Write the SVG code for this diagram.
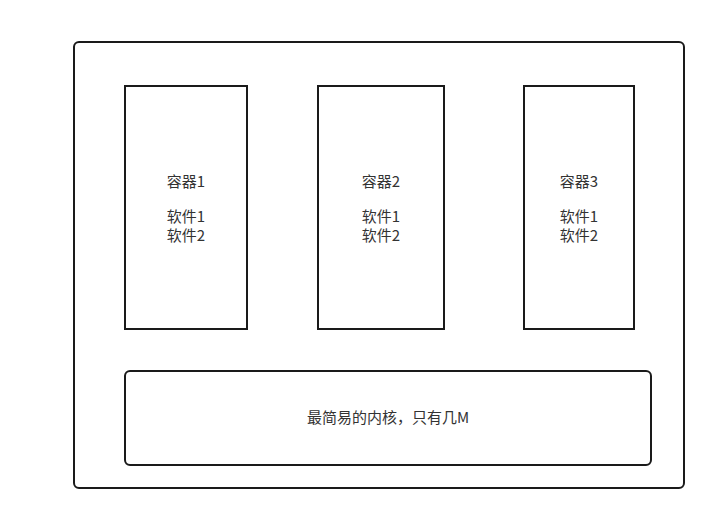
<svg xmlns="http://www.w3.org/2000/svg" width="726" height="524" viewBox="0 0 726 524">
<style>
.box{fill:#fff;stroke:#1a1a1a;stroke-width:2}
text{font-family:"Microsoft YaHei","Noto Sans CJK SC",sans-serif;font-size:15px;fill:#333;text-anchor:middle}
</style>
<rect width="726" height="524" fill="#fff"/>
<g id="host"><rect class="box" x="74" y="42" width="610" height="446" rx="5"/></g>
<g id="c1"><rect class="box" x="125" y="86" width="122" height="243"/>
<text x="186" y="187">容器1</text><text x="186" y="222">软件1</text><text x="186" y="241">软件2</text></g>
<g id="c2"><rect class="box" x="318" y="86" width="126" height="243"/>
<text x="381" y="187">容器2</text><text x="381" y="222">软件1</text><text x="381" y="241">软件2</text></g>
<g id="c3"><rect class="box" x="524" y="86" width="110" height="243"/>
<text x="579" y="187">容器3</text><text x="579" y="222">软件1</text><text x="579" y="241">软件2</text></g>
<g id="kernel"><rect class="box" x="125" y="371" width="526" height="94" rx="5"/>
<text x="388" y="423">最简易的内核，只有几M</text></g>
<g id="connectors"></g>
</svg>
